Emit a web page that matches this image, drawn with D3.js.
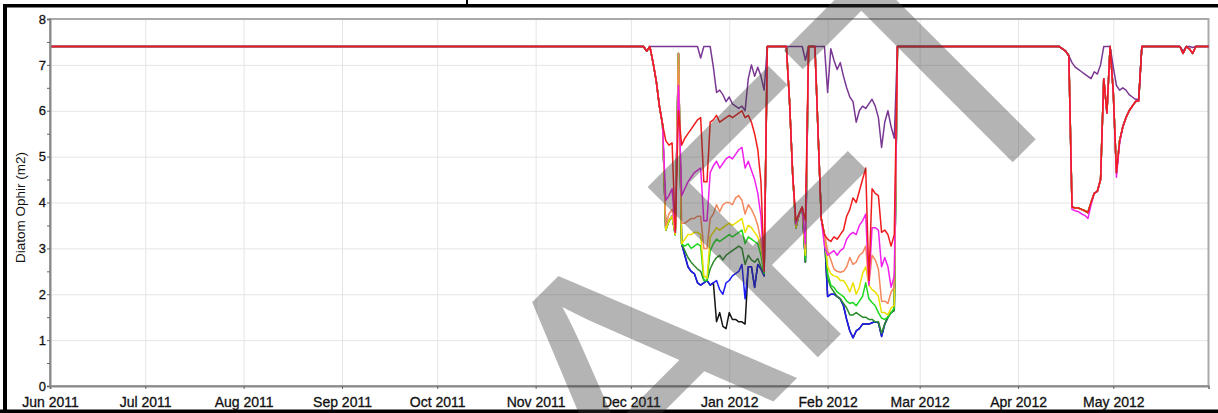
<!DOCTYPE html>
<html>
<head>
<meta charset="utf-8">
<script src="https://cdn.jsdelivr.net/npm/d3@7"></script>
<style>
  body { margin: 0; background: #fff; }
  svg { display: block; }
  .tick text { font-family: "Liberation Sans", Arial, sans-serif; fill: #111; stroke: #111; stroke-width: 0.3px; }
</style>
</head>
<body>
<div id="chart"></div>
<script>
// ---- data ----
const baseLevel = 7.4;
const xStart = "2011-06-01";
const xEnd = "2012-05-31";
const yTickValues = [0, 0.5, 1, 1.5, 2, 2.5, 3, 3.5, 4, 4.5, 5, 5.5, 6, 6.5, 7, 7.5, 8];
const monthTicks = ["2011-06-01", "2011-07-01", "2011-08-01", "2011-09-01", "2011-10-01", "2011-11-01",
  "2011-12-01", "2012-01-01", "2012-02-01", "2012-03-01", "2012-04-01", "2012-05-01"];
const yLabel = "Diatom Ophir  (m2)";

// daily values, each episode starts at the date below
const episodeStarts = ["2011-12-05", "2012-01-18", "2012-04-13", "2012-05-22"];

// episode 1: 5 Dec 2011 - 13 Jan 2012
const ep1Red = [7.4,7.3,7.4,7.05,6.65,6.1,5.7,5.35,5.25,5.3,3.35,6.0,5.25,5.4,5.5,5.6,5.7,5.8,5.85,4.45,4.45,5.75,5.8,5.9,5.75,5.8,5.85,5.9,5.85,5.9,5.95,6.0,5.85,5.9,5.75,5.5,5.15,4.45,2.5,7.4];
const ep1Purple = [7.4,7.3,7.4,7.4,7.4,7.4,7.4,7.4,7.4,7.4,7.4,7.4,7.4,7.4,7.4,7.4,7.4,7.4,7.15,7.4,7.4,7.4,6.95,6.4,6.45,6.35,6.2,6.3,6.15,6.1,6.05,6.1,6.0,6.7,7.0,6.75,6.95,6.75,6.45,7.4];
const ep1Magenta = [7.4,7.3,7.4,7.05,6.65,6.1,5.7,4.05,4.15,4.3,3.35,6.55,4.15,4.3,4.45,4.55,4.65,4.7,4.75,3.6,3.6,4.65,4.8,4.9,4.75,4.85,4.95,5.0,4.95,5.05,5.15,5.2,4.75,4.9,4.7,4.5,4.2,3.7,2.5,7.4];
const ep1Salmon = [7.4,7.3,7.4,7.05,6.65,6.1,5.7,3.5,3.75,3.85,3.35,7.25,3.55,3.55,3.6,3.65,3.65,3.7,3.7,3.0,3.0,3.65,3.75,3.95,3.8,3.95,4.0,4.0,3.95,4.1,4.15,4.05,3.75,3.95,3.85,3.7,3.5,3.15,2.55,7.4];
const ep1Yellow = [7.4,7.3,7.4,7.05,6.65,6.1,5.7,3.4,3.6,3.7,3.3,7.25,3.1,3.2,3.3,3.3,3.35,3.35,3.3,2.4,2.35,3.25,3.35,3.45,3.4,3.45,3.5,3.55,3.5,3.55,3.6,3.65,3.35,3.5,3.45,3.35,3.25,3.0,2.55,7.4];
const ep1Green = [7.4,7.3,7.4,7.05,6.65,6.1,5.7,3.4,3.6,3.7,3.3,7.25,3.1,3.05,3.1,3.0,3.05,3.1,3.05,2.3,2.3,2.95,3.1,3.2,3.15,3.2,3.25,3.3,3.25,3.3,3.35,3.4,3.1,3.25,3.2,3.15,3.1,2.85,2.45,7.4];
const ep1DarkGreen = [7.4,7.3,7.4,7.05,6.65,6.1,5.7,3.4,3.6,3.7,3.3,7.25,3.1,2.95,2.8,2.7,2.62,2.55,2.5,2.3,2.3,2.55,2.7,2.8,2.85,2.75,2.85,2.9,2.95,3.0,3.05,3.0,2.65,2.85,2.75,2.7,2.78,2.6,2.45,7.4];
const ep1Blue = [7.4,7.3,7.4,7.05,6.65,6.1,5.7,3.4,3.6,3.7,3.3,7.25,3.1,2.85,2.6,2.5,2.45,2.25,2.2,2.25,2.3,2.2,2.25,2.3,2.1,2.0,2.25,2.3,2.4,2.45,2.5,2.65,1.9,2.6,2.6,2.15,2.65,2.55,2.4,7.4];
const ep1Black = [7.4,7.3,7.4,7.05,6.65,6.1,5.7,3.4,3.6,3.7,3.3,7.25,3.1,2.85,2.6,2.5,2.45,2.25,2.2,2.25,2.3,2.2,2.25,1.4,1.6,1.3,1.25,1.6,1.45,1.45,1.4,1.4,1.35,2.6,2.6,2.15,2.65,2.55,2.4,7.4];

// episode 2: 18 Jan 2012 - 23 Feb 2012
const ep2Red = [7.4,7.4,6.2,4.6,3.6,3.75,3.9,3.6,7.4,7.4,7.4,5.5,3.65,3.3,3.2,3.15,3.25,3.2,3.3,3.4,3.7,3.85,4.1,4.0,4.25,4.5,4.75,2.3,4.3,4.2,4.15,3.35,3.4,3.3,3.05,3.3,7.4];
const ep2Purple = [7.4,7.4,7.4,7.4,7.4,7.4,7.4,7.1,7.4,7.4,7.4,7.4,7.4,7.4,6.4,7.35,7.1,6.9,7.05,6.75,6.5,6.3,6.2,5.75,6.0,6.1,6.05,6.15,6.25,6.1,5.85,5.2,5.75,6.0,5.65,5.4,7.4];
const ep2Magenta = [7.4,7.4,6.2,4.6,3.55,3.75,3.9,3.1,7.4,7.4,7.4,5.5,3.65,3.05,2.85,2.9,2.95,2.85,2.95,3.0,3.2,3.3,3.35,3.3,3.5,3.6,3.75,2.2,3.45,3.45,3.4,2.6,2.8,2.6,2.15,2.4,7.4];
const ep2Salmon = [7.4,7.4,6.2,4.6,3.5,3.75,3.9,3.0,7.4,7.4,7.4,5.5,3.65,3.3,2.95,2.75,2.55,2.5,2.48,2.5,2.6,2.8,2.65,2.7,2.85,2.9,3.05,2.2,2.85,2.75,2.55,1.85,1.85,1.8,2.05,2.15,7.4];
const ep2Yellow = [7.4,7.4,6.2,4.6,3.45,3.75,3.9,2.85,7.4,7.4,7.4,5.5,3.65,3.3,2.6,2.45,2.4,2.38,2.3,2.3,2.2,2.05,2.25,2.0,2.15,2.45,2.6,2.2,2.1,2.05,1.95,1.6,1.6,1.55,1.7,1.75,7.4];
const ep2Green = [7.4,7.4,6.2,4.6,3.45,3.75,3.9,2.75,7.4,7.4,7.4,5.5,3.65,3.3,2.45,2.2,2.15,2.05,2.0,1.95,1.85,1.8,1.82,1.75,1.85,1.95,2.25,1.9,1.82,1.75,1.6,1.48,1.45,1.5,1.6,1.7,7.4];
const ep2DarkGreen = [7.4,7.4,6.2,4.6,3.45,3.75,3.9,2.7,7.4,7.4,7.4,5.5,3.65,3.3,2.35,2.15,2.05,1.95,1.9,1.8,1.7,1.55,1.55,1.6,1.55,1.5,1.5,1.45,1.45,1.4,1.4,1.15,1.35,1.5,1.6,1.65,7.4];
const ep2Blue = [7.4,7.4,6.2,4.6,3.45,3.75,3.9,2.7,7.4,7.4,7.4,5.5,3.65,3.3,1.95,2.0,2.0,1.95,1.9,1.75,1.45,1.2,1.05,1.2,1.25,1.35,1.35,1.35,1.38,1.4,1.38,1.08,1.35,1.5,1.6,1.65,7.4];

// episode 3: 13 Apr 2012 - 11 May 2012 (lower series sit on the red one)
const ep3Red = [7.4,7.4,7.35,7.3,7.2,3.9,3.88,3.88,3.85,3.82,3.78,4.0,4.2,4.25,4.5,6.7,5.95,7.4,6.4,4.65,5.35,5.65,5.85,6.0,6.1,6.2,6.22,7.4,7.4];
const ep3Magenta = [7.4,7.4,7.35,7.3,7.2,3.85,3.82,3.8,3.75,3.72,3.65,3.95,4.2,4.25,4.5,6.7,5.95,7.4,6.4,4.55,5.3,5.65,5.85,6.0,6.1,6.2,6.22,7.4,7.4];
const ep3Purple = [7.4,7.4,7.35,7.3,7.2,7.05,6.95,6.9,6.85,6.8,6.75,6.7,6.85,6.8,7.0,7.4,7.4,7.4,6.95,6.55,6.45,6.5,6.45,6.35,6.3,6.25,6.25,7.4,7.4];

// episode 4: 22 May 2012 - 27 May 2012
const ep4Red = [7.4,7.25,7.4,7.35,7.25,7.4];
const ep4Purple = [7.4,7.3,7.4,7.4,7.38,7.4];

const seriesNames = ["black", "blue", "darkgreen", "green", "yellow", "salmon", "magenta", "purple", "red"];
const seriesColors = ["#141414", "#1c1cf5", "#2b8a2b", "#1fd81f", "#ece000", "#f5875c", "#f020ee", "#7a3894", "#f01c1c"];
const seriesEpisodes = [
  [ep1Black, ep2Blue, ep3Red, ep4Red],
  [ep1Blue, ep2Blue, ep3Red, ep4Red],
  [ep1DarkGreen, ep2DarkGreen, ep3Red, ep4Red],
  [ep1Green, ep2Green, ep3Red, ep4Red],
  [ep1Yellow, ep2Yellow, ep3Red, ep4Red],
  [ep1Salmon, ep2Salmon, ep3Red, ep4Red],
  [ep1Magenta, ep2Magenta, ep3Magenta, ep4Red],
  [ep1Purple, ep2Purple, ep3Purple, ep4Purple],
  [ep1Red, ep2Red, ep3Red, ep4Red]
];

// ---- chart ----
const W = 1218, H = 413;
const margin = { top: 19, right: 9.5, bottom: 27, left: 50 };
const width = W - margin.left - margin.right;
const height = H - margin.top - margin.bottom;
const parse = d3.timeParse("%Y-%m-%d");

const svg = d3.select("#chart").append("svg")
  .attr("width", W)
  .attr("height", H);

// outer black frame of the screenshot
svg.append("rect").attr("x", 3).attr("y", 4).attr("width", W - 3).attr("height", 3.5).attr("fill", "#000");
svg.append("rect").attr("x", 3).attr("y", 4).attr("width", 4).attr("height", H - 4).attr("fill", "#000");
svg.append("rect").attr("x", 0).attr("y", H - 3.5).attr("width", W).attr("height", 3.5).attr("fill", "#000");
svg.append("rect").attr("x", 466).attr("y", 0).attr("width", 2).attr("height", 5).attr("fill", "#000");

const g = svg.append("g").attr("transform", `translate(${margin.left},${margin.top})`);

const x = d3.scaleTime().domain([parse(xStart), parse(xEnd)]).range([0, width]);
const y = d3.scaleLinear().domain([0, 8]).range([height, 0]);

// gridlines
g.append("g")
  .attr("class", "grid")
  .attr("transform", `translate(0,${height})`)
  .call(d3.axisBottom(x).tickValues(monthTicks.map(parse)).tickSize(-height).tickFormat(""))
  .call(s => s.select(".domain").remove())
  .selectAll("line").attr("stroke", "#e4e4e4");

g.append("g")
  .attr("class", "grid")
  .call(d3.axisLeft(y).tickValues(d3.range(1, 8)).tickSize(-width).tickFormat(""))
  .call(s => s.select(".domain").remove())
  .selectAll("line").attr("stroke", "#e4e4e4");

// plot border
g.append("rect")
  .attr("width", width)
  .attr("height", height)
  .attr("fill", "none")
  .attr("stroke", "#a9a9a9")
  .attr("stroke-width", 2);

// series
const line = d3.line()
  .x(d => x(d.date))
  .y(d => y(d.value));

seriesNames.forEach((name, i) => {
  const points = [{ date: parse(xStart), value: baseLevel }];
  seriesEpisodes[i].forEach((vals, e) => {
    const start = parse(episodeStarts[e]);
    vals.forEach((v, k) => points.push({ date: d3.timeDay.offset(start, k), value: v }));
  });
  points.push({ date: parse(xEnd), value: baseLevel });

  g.append("path")
    .datum(points)
    .attr("class", "line " + name)
    .attr("fill", "none")
    .attr("stroke", seriesColors[i])
    .attr("stroke-width", 1.5)
    .attr("stroke-linejoin", "round")
    .attr("d", line);
});

// axes
const xAxis = g.append("g")
  .attr("transform", `translate(0,${height})`)
  .call(d3.axisBottom(x)
    .tickValues(monthTicks.map(parse))
    .tickSize(3)
    .tickPadding(8)
    .tickFormat(d3.timeFormat("%b %Y")));
xAxis.select(".domain").attr("stroke", "#8a8a8a").attr("stroke-width", 2);
xAxis.selectAll(".tick line").attr("stroke", "#666");
xAxis.selectAll("text").style("font-size", "14px");

const yAxis = g.append("g")
  .call(d3.axisLeft(y)
    .tickValues(yTickValues)
    .tickSize(3)
    .tickPadding(1)
    .tickFormat(d => Number.isInteger(d) ? d : ""));
yAxis.select(".domain").attr("stroke", "#8a8a8a").attr("stroke-width", 2);
yAxis.selectAll(".tick line").attr("stroke", "#666");
yAxis.selectAll("text").style("font-size", "13px");

// y axis title
svg.append("text")
  .attr("transform", `translate(25,${margin.top + height / 2 + 5}) rotate(-90)`)
  .attr("text-anchor", "middle")
  .style("font-family", "'Liberation Sans', Arial, sans-serif")
  .style("font-size", "13.5px")
  .style("fill", "#111")
  .text(yLabel);

// watermark
svg.append("text")
  .attr("transform", "translate(275,900) rotate(-45)")
  .style("font-family", "'Liberation Sans', Arial, sans-serif")
  .style("font-size", "350px")
  .style("fill", "#3a3a3a")
  .style("fill-opacity", 0.38)
  .text("DRAFT");
</script>
</body>
</html>
